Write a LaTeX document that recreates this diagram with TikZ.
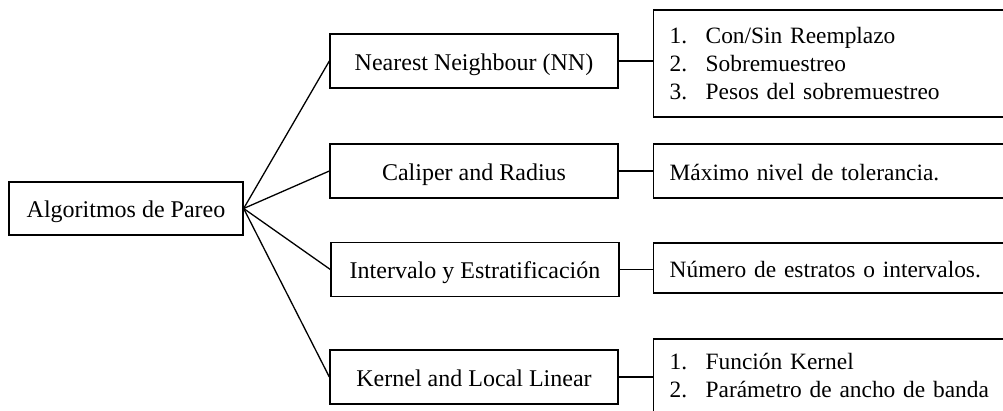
\documentclass[tikz,border=0pt]{standalone}
\usepackage{fontspec}
\setmainfont{Liberation Serif}

\begin{document}
\begin{tikzpicture}[x=1pt,y=-1pt,
  box/.style={draw,line width=1.3pt,inner sep=0pt,font=\fontsize{24}{28}\selectfont},
  linea/.style={text height=24pt,text depth=5pt},
  metodo/.style={box,linea,minimum width=288pt,minimum height=54pt},
  detalle/.style={box,anchor=west,inner xsep=16pt,text width=350pt,align=left,
    font=\fontsize{23.4}{28}\selectfont},
  enlace/.style={line width=1.3pt}]
  \useasboundingbox (0,0) rectangle (1003,411);
  \clip (0,0) rectangle (1003,411);

  \node[box,linea,minimum width=234pt,minimum height=53pt] (pareo) at (126,208.5) {Algoritmos de Pareo};

  \node[metodo] (nn) at (474,61) {Nearest Neighbour (NN)};
  \node[metodo] (caliper) at (474,171) {Caliper and Radius};
  \node[metodo] (intervalo) at (475,269.5) {Intervalo y Estratificación};
  \node[metodo] (kernel) at (474,377) {Kernel and Local Linear};

  \node[detalle,minimum height=107pt] (nnd) at (653,63.5)
    {\makebox[36pt][l]{1.}Con/Sin Reemplazo\\
     \makebox[36pt][l]{2.}Sobremuestreo\\
     \makebox[36pt][l]{3.}Pesos del sobremuestreo};
  \node[detalle,linea,minimum height=54pt] (caliperd) at (653,171) {Máximo nivel de tolerancia.};
  \node[detalle,linea,minimum height=50pt] (intervalod) at (653,268) {Número de estratos o intervalos.};
  \node[detalle,minimum height=74pt] (kerneld) at (653,376)
    {\makebox[36pt][l]{1.}Función Kernel\\
     \makebox[36pt][l]{2.}Parámetro de ancho de banda};

  % ramas
  \foreach \m in {nn,caliper,intervalo,kernel}
    \draw[enlace] (pareo.east) -- (\m.west);

  % detalles
  \foreach \m/\d in {nn/nnd,caliper/caliperd,intervalo/intervalod,kernel/kerneld}
    \draw[enlace] (\m.east) -- (\m.east -| \d.west);
\end{tikzpicture}
\end{document}
